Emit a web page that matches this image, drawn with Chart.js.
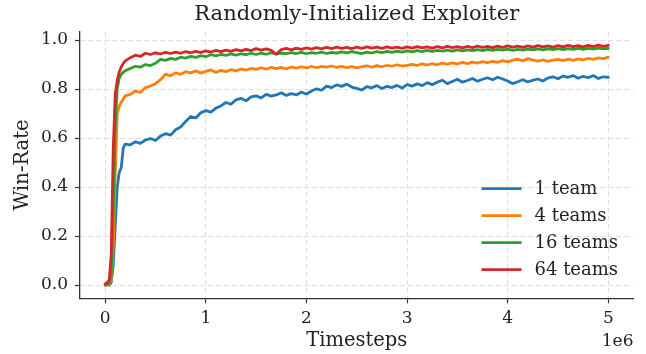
<!DOCTYPE html>
<html>
<head>
<meta charset="utf-8">
<script src="https://cdn.jsdelivr.net/npm/chart.js@4.4.1/dist/chart.umd.min.js"></script>
<style>
  html, body { margin: 0; padding: 0; background: #fff; }
  canvas { display: block; }
</style>
</head>
<body>
<canvas id="myChart" width="646" height="354"></canvas>
<script>
// timesteps, in units of 1e6
const steps = [
  0, 0.02, 0.04, 0.06, 0.08, 0.1, 0.12, 0.14, 0.16, 0.18, 0.2,
  0.25, 0.3, 0.35, 0.4, 0.45, 0.5, 0.55, 0.6, 0.65, 0.7, 0.75, 0.8, 0.85, 0.9, 0.95, 1.0,
  1.05, 1.1, 1.15, 1.2, 1.25, 1.3, 1.35, 1.4, 1.45, 1.5, 1.55, 1.6, 1.65, 1.7, 1.75, 1.8, 1.85, 1.9, 1.95, 2.0,
  2.05, 2.1, 2.15, 2.2, 2.25, 2.3, 2.35, 2.4, 2.45, 2.5, 2.55, 2.6, 2.65, 2.7, 2.75, 2.8, 2.85, 2.9, 2.95, 3.0,
  3.05, 3.1, 3.15, 3.2, 3.25, 3.3, 3.35, 3.4, 3.45, 3.5, 3.55, 3.6, 3.65, 3.7, 3.75, 3.8, 3.85, 3.9, 3.95, 4.0,
  4.05, 4.1, 4.15, 4.2, 4.25, 4.3, 4.35, 4.4, 4.45, 4.5, 4.55, 4.6, 4.65, 4.7, 4.75, 4.8, 4.85, 4.9, 4.95, 5.0
];

const team1 = [
  0.000, 0.005, 0.000, 0.010, 0.080, 0.240, 0.400, 0.460, 0.480, 0.560, 0.575,
  0.572, 0.585, 0.578, 0.592, 0.598, 0.590, 0.608, 0.618, 0.612, 0.634, 0.645, 0.668, 0.688, 0.682, 0.703, 0.712,
  0.706, 0.722, 0.731, 0.745, 0.738, 0.756, 0.762, 0.752, 0.768, 0.772, 0.764, 0.778, 0.771, 0.776, 0.785, 0.774, 0.781, 0.776, 0.788, 0.779,
  0.792, 0.801, 0.795, 0.812, 0.806, 0.817, 0.811, 0.820, 0.808, 0.803, 0.796, 0.810, 0.805, 0.814, 0.802, 0.811, 0.806, 0.815, 0.804, 0.818,
  0.812, 0.821, 0.814, 0.826, 0.818, 0.828, 0.836, 0.822, 0.831, 0.840, 0.828, 0.835, 0.843, 0.832, 0.840, 0.846, 0.838, 0.848, 0.841, 0.833,
  0.822, 0.830, 0.838, 0.829, 0.836, 0.841, 0.833, 0.845, 0.850, 0.842, 0.853, 0.848, 0.855, 0.844, 0.852, 0.846, 0.855, 0.843, 0.850, 0.848
];

const team4 = [
  0.000, 0.000, 0.005, 0.020, 0.150, 0.450, 0.700, 0.730, 0.745, 0.760, 0.772,
  0.778, 0.792, 0.786, 0.806, 0.812, 0.822, 0.838, 0.861, 0.854, 0.866, 0.860, 0.871, 0.866, 0.874, 0.865, 0.872,
  0.878, 0.868, 0.876, 0.871, 0.879, 0.874, 0.882, 0.877, 0.884, 0.880, 0.887, 0.881, 0.889, 0.883, 0.888, 0.882, 0.890, 0.885, 0.891, 0.886,
  0.893, 0.887, 0.892, 0.889, 0.894, 0.888, 0.893, 0.887, 0.892, 0.886, 0.891, 0.895, 0.889, 0.896, 0.891, 0.897, 0.893, 0.899, 0.894, 0.897,
  0.901, 0.896, 0.903, 0.898, 0.904, 0.899, 0.906, 0.902, 0.907, 0.903, 0.909, 0.904, 0.910, 0.906, 0.912, 0.908, 0.913, 0.909, 0.916, 0.911,
  0.918, 0.922, 0.915, 0.924, 0.918, 0.914, 0.919, 0.913, 0.918, 0.921, 0.916, 0.922, 0.917, 0.923, 0.919, 0.925, 0.921, 0.927, 0.924, 0.930
];

const team16 = [
  0.000, 0.002, 0.010, 0.040, 0.300, 0.650, 0.800, 0.845, 0.860, 0.868, 0.875,
  0.884, 0.893, 0.889, 0.900, 0.896, 0.905, 0.921, 0.917, 0.925, 0.921, 0.930, 0.926, 0.933, 0.929, 0.936, 0.932,
  0.940, 0.935, 0.941, 0.937, 0.943, 0.938, 0.944, 0.940, 0.946, 0.941, 0.947, 0.942, 0.948, 0.943, 0.947, 0.944, 0.949, 0.945, 0.950, 0.944,
  0.949, 0.946, 0.951, 0.945, 0.950, 0.947, 0.952, 0.948, 0.953, 0.949, 0.945, 0.951, 0.947, 0.953, 0.949, 0.954, 0.950, 0.955, 0.951, 0.956,
  0.952, 0.957, 0.953, 0.958, 0.954, 0.958, 0.955, 0.959, 0.955, 0.960, 0.956, 0.960, 0.957, 0.961, 0.957, 0.962, 0.958, 0.962, 0.959, 0.963,
  0.958, 0.962, 0.959, 0.963, 0.960, 0.964, 0.960, 0.964, 0.961, 0.965, 0.961, 0.965, 0.962, 0.966, 0.962, 0.966, 0.963, 0.967, 0.964, 0.966
];

const team64 = [
  0.005, 0.010, 0.020, 0.120, 0.550, 0.780, 0.835, 0.870, 0.890, 0.905, 0.915,
  0.928, 0.938, 0.933, 0.946, 0.941, 0.948, 0.943, 0.950, 0.945, 0.951, 0.946, 0.953, 0.948, 0.954, 0.949, 0.956,
  0.951, 0.958, 0.953, 0.959, 0.954, 0.961, 0.956, 0.962, 0.957, 0.965, 0.959, 0.964, 0.958, 0.942, 0.961, 0.966, 0.960, 0.967, 0.962, 0.968,
  0.963, 0.969, 0.964, 0.970, 0.965, 0.971, 0.966, 0.970, 0.965, 0.971, 0.966, 0.972, 0.967, 0.971, 0.966, 0.972, 0.967, 0.971, 0.966, 0.972,
  0.967, 0.973, 0.968, 0.972, 0.967, 0.973, 0.968, 0.974, 0.969, 0.973, 0.968, 0.974, 0.969, 0.975, 0.970, 0.974, 0.969, 0.975, 0.970, 0.976,
  0.971, 0.975, 0.970, 0.976, 0.971, 0.977, 0.972, 0.976, 0.971, 0.977, 0.972, 0.978, 0.973, 0.977, 0.972, 0.978, 0.973, 0.979, 0.974, 0.978
];

const seriesNames = ["1 team", "4 teams", "16 teams", "64 teams"];
const seriesColors = ["#1f77b4", "#ff7f0e", "#2ca02c", "#d62728"];
const xTicks = [0, 1, 2, 3, 4, 5];
const yTicks = [0, 0.2, 0.4, 0.6, 0.8, 1.0];

const SERIF = "'DejaVu Serif', serif";
const INK = "#222";

function toPoints(values) {
  return values.map((v, i) => ({ x: steps[i], y: v }));
}

// legend drawn inside the plot, matplotlib style (no frame)
const innerLegend = {
  id: "innerLegend",
  afterDatasetsDraw(chart) {
    const ctx = chart.ctx;
    const area = chart.chartArea;
    const x0 = area.right - 152;
    const y0 = area.top + 157;
    ctx.save();
    ctx.font = "18px " + SERIF;
    ctx.textBaseline = "middle";
    ctx.textAlign = "left";
    chart.data.datasets.forEach((ds, i) => {
      const y = y0 + i * 27;
      ctx.strokeStyle = ds.borderColor;
      ctx.lineWidth = 2.8;
      ctx.beginPath();
      ctx.moveTo(x0, y);
      ctx.lineTo(x0 + 40, y);
      ctx.stroke();
      ctx.fillStyle = INK;
      ctx.fillText(ds.label, x0 + 53, y + 1);
    });
    ctx.restore();
  }
};

// the "1e6" offset text under the right end of the x axis
const offsetText = {
  id: "offsetText",
  afterDraw(chart) {
    const ctx = chart.ctx;
    ctx.save();
    ctx.font = "17px " + SERIF;
    ctx.fillStyle = INK;
    ctx.textAlign = "right";
    ctx.textBaseline = "middle";
    ctx.fillText("1e6", chart.chartArea.right, 342);
    ctx.restore();
  }
};

const datasets = [team1, team4, team16, team64].map((vals, i) => ({
  label: seriesNames[i],
  data: toPoints(vals),
  borderColor: seriesColors[i],
  backgroundColor: seriesColors[i],
  borderWidth: 2.8,
  pointRadius: 0,
  tension: 0,
  borderJoinStyle: "round",
  borderCapStyle: "round",
  order: 4 - i
}));

const config = {
  type: "line",
  data: { datasets: datasets },
  options: {
    responsive: false,
    animation: false,
    layout: { padding: { left: 0, right: 12.5, top: 0, bottom: 0 } },
    plugins: {
      legend: { display: false },
      tooltip: { enabled: false },
      title: {
        display: true,
        fullSize: false,
        text: "Randomly-Initialized Exploiter",
        color: INK,
        font: { family: SERIF, size: 21, weight: "normal", lineHeight: 1.2 },
        padding: { top: 1.7, bottom: 4.8 }
      }
    },
    scales: {
      x: {
        type: "linear",
        min: -0.25,
        max: 5.25,
        afterBuildTicks: (axis) => { axis.ticks = xTicks.map(v => ({ value: v })); },
        afterFit: (axis) => { axis.height = 55.7; },
        ticks: {
          color: INK,
          padding: 5.5,
          maxRotation: 0,
          font: { family: SERIF, size: 17 },
          callback: (v) => String(v)
        },
        grid: {
          color: "#dedede",
          lineWidth: 1,
          drawTicks: true,
          tickLength: 5,
          tickColor: "#333",
          tickWidth: 1.2
        },
        border: { display: true, color: "#333", width: 1.3, dash: [5, 3] },
        title: {
          display: true,
          text: "Timesteps",
          color: INK,
          font: { family: SERIF, size: 19.5, lineHeight: 1.2 },
          padding: { top: 0, bottom: 1.3 }
        }
      },
      y: {
        type: "linear",
        min: -0.054,
        max: 1.034,
        afterBuildTicks: (axis) => { axis.ticks = yTicks.map(v => ({ value: v })); },
        afterFit: (axis) => { axis.width = 80; },
        ticks: {
          color: INK,
          padding: 7,
          font: { family: SERIF, size: 17 },
          callback: (v) => Number(v).toFixed(1)
        },
        grid: {
          color: "#dedede",
          lineWidth: 1,
          drawTicks: true,
          tickLength: 5,
          tickColor: "#333",
          tickWidth: 1.2
        },
        border: { display: true, color: "#333", width: 1.3, dash: [5, 3] },
        title: {
          display: true,
          text: "Win-Rate",
          color: INK,
          font: { family: SERIF, size: 19.5, lineHeight: 1.2 },
          padding: { top: 11, bottom: 0 }
        }
      }
    }
  },
  plugins: [innerLegend, offsetText]
};

const myChart = new Chart(document.getElementById("myChart"), config);
</script>
</body>
</html>
